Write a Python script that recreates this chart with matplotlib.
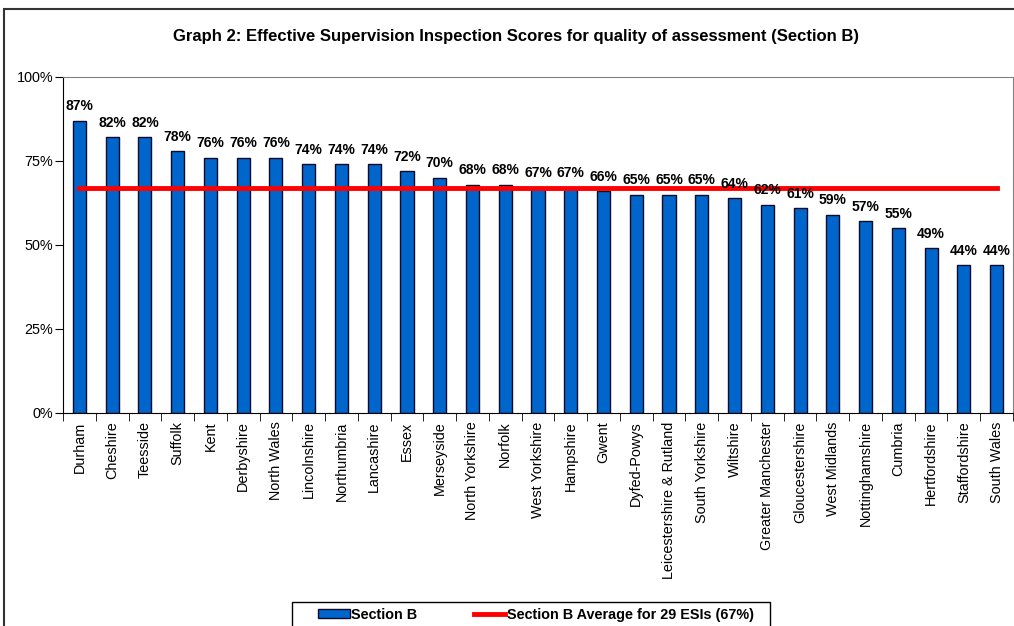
import matplotlib.pyplot as plt
import matplotlib.patches as mpatches
from matplotlib.ticker import FixedLocator, PercentFormatter
import numpy as np

plt.rcParams['font.family'] = ['Liberation Sans', 'DejaVu Sans']

# data
areas = ['Durham', 'Cheshire', 'Teesside', 'Suffolk', 'Kent', 'Derbyshire',
         'North Wales', 'Lincolnshire', 'Northumbria', 'Lancashire', 'Essex',
         'Merseyside', 'North Yorkshire', 'Norfolk', 'West Yorkshire',
         'Hampshire', 'Gwent', 'Dyfed-Powys', 'Leicestershire & Rutland',
         'South Yorkshire', 'Wiltshire', 'Greater Manchester',
         'Gloucestershire', 'West Midlands', 'Nottinghamshire', 'Cumbria',
         'Hertfordshire', 'Staffordshire', 'South Wales']
scores = [87, 82, 82, 78, 76, 76, 76, 74, 74, 74, 72, 70, 68, 68, 67, 67,
          66, 65, 65, 65, 64, 62, 61, 59, 57, 55, 49, 44, 44]
average = 67

W, H = 1014, 626
fig = plt.figure(figsize=(W / 100, H / 100), dpi=100)

# outer chart border (cut off on the right and bottom)
fig.patches.append(mpatches.Rectangle((4 / W, -0.1), 1.2, 1.1 - 9 / H,
                                      transform=fig.transFigure, fill=False,
                                      edgecolor='#333333', linewidth=1.5))

ax = fig.add_axes([63 / W, 1 - 413 / H, 950 / W, 336 / H])

x = np.arange(len(areas))
bars = ax.bar(x, scores, width=0.4, color='#0066CC', edgecolor='#0a0a2a',
              linewidth=1, label='Section B', zorder=2)
avg_line, = ax.plot(x, [average] * len(areas), color='#FF0000', linewidth=3.5,
                    label='Section B Average for 29 ESIs (67%)', zorder=3)

for xi, v in zip(x, scores):
    ax.text(xi, v + 2.2, f'{v}%', ha='center', va='bottom',
            fontsize=10, fontweight='bold')

ax.set_xlim(-0.5, len(areas) - 0.5)
ax.set_ylim(0, 100)
ax.set_yticks([0, 25, 50, 75, 100])
ax.yaxis.set_major_formatter(PercentFormatter(decimals=0))
ax.set_xticks(x)
ax.set_xticklabels(areas, rotation=90, fontsize=10.4)
ax.xaxis.set_minor_locator(FixedLocator(np.arange(-0.5, len(areas), 1)))
ax.tick_params(axis='x', which='major', length=0, pad=6)
ax.tick_params(axis='x', which='minor', length=6, direction='out', color='black')
ax.tick_params(axis='y', labelsize=10.4, length=6, direction='out', pad=1)

ax.spines['top'].set_color('#808080')
ax.spines['right'].set_color('#808080')
ax.spines['left'].set_color('black')
ax.spines['bottom'].set_color('black')

fig.text(516 / W, 1 - 36 / H,
         'Graph 2: Effective Supervision Inspection Scores for quality of assessment (Section B)',
         ha='center', va='center', fontsize=12, fontweight='bold')

# legend box (cut off at the bottom)
fig.patches.append(mpatches.Rectangle((292 / W, -0.05), 478 / W, 0.05 + 1 - 602 / H,
                                      transform=fig.transFigure, fill=False,
                                      edgecolor='black', linewidth=1))
leg = fig.legend(handles=[bars, avg_line], loc='center left',
                 bbox_to_anchor=(318 / W, 1 - 615 / H),
                 ncol=2, frameon=False,
                 prop={'weight': 'bold', 'size': 10.4}, columnspacing=3.9,
                 handlelength=2.2, handleheight=0.6, handletextpad=0.1,
                 borderpad=0, borderaxespad=0)

fig.savefig('out.png', dpi=100)
